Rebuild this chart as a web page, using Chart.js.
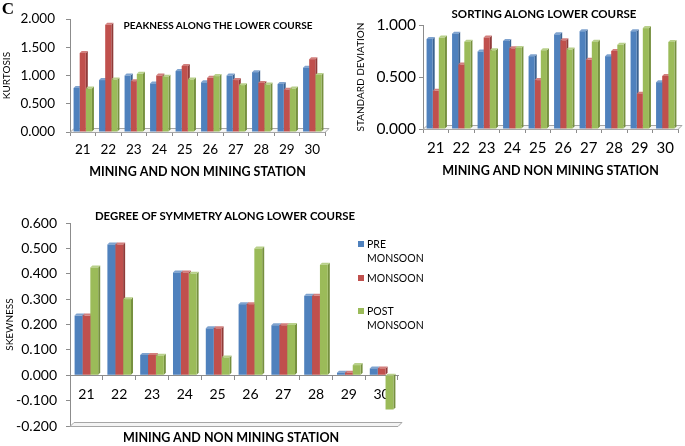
<!DOCTYPE html>
<html><head><meta charset="utf-8">
<script src="https://cdn.jsdelivr.net/npm/chart.js@4"></script>
<style>
body{margin:0;background:#fff;width:685px;height:446px;overflow:hidden;position:relative;font-family:Lato,sans-serif}
canvas{position:absolute}
.t{position:absolute;white-space:nowrap;font-weight:bold;color:#000;transform:translate(-50%,-50%);font-family:Lato,sans-serif}
.lg{position:absolute;font-size:10.5px;line-height:14px;color:#000;font-family:Lato,sans-serif}
.sq{position:absolute;width:6px;height:6px}
</style></head><body>
<canvas id="c1" width="340" height="190" style="left:0;top:0"></canvas>
<canvas id="c2" width="345" height="190" style="left:340px;top:0"></canvas>
<canvas id="c3" width="420" height="246" style="left:0;top:200px"></canvas>
<div class="t" style="left:8px;top:9px;font-family:'Liberation Serif',serif;font-size:17px">C</div>
<div class="t" style="left:218px;top:25px;font-size:10px">PEAKNESS ALONG THE LOWER COURSE</div>
<div class="t" style="left:544px;top:13px;font-size:11.5px">SORTING ALONG LOWER COURSE</div>
<div class="t" style="left:225px;top:215px;font-size:11.4px">DEGREE OF SYMMETRY ALONG LOWER COURSE</div>
<div class="t" style="left:231px;top:437px;font-size:12.5px">MINING AND NON MINING STATION</div>
<div class="sq" style="left:358px;top:241px;background:#4F81BD"></div>
<div class="lg" style="left:367px;top:237px">PRE<br>MONSOON</div>
<div class="sq" style="left:358px;top:275px;background:#C0504D"></div>
<div class="lg" style="left:367px;top:271px">MONSOON</div>
<div class="sq" style="left:358px;top:308px;background:#9BBB59"></div>
<div class="lg" style="left:367px;top:304px">POST<br>MONSOON</div>
<script>
const categories = ['21','22','23','24','25','26','27','28','29','30'];
const seriesNames = ['PRE MONSOON','MONSOON','POST MONSOON'];

const kurtPre  = [0.78,0.92,1.00,0.86,1.08,0.88,1.00,1.06,0.85,1.14];
const kurtMon  = [1.40,1.90,0.90,1.00,1.17,0.96,0.92,0.87,0.75,1.29];
const kurtPost = [0.77,0.93,1.03,0.98,0.93,0.99,0.83,0.84,0.77,1.01];

const sdPre  = [0.866,0.917,0.745,0.847,0.700,0.910,0.940,0.700,0.940,0.450];
const sdMon  = [0.367,0.620,0.880,0.776,0.470,0.853,0.665,0.750,0.340,0.510];
const sdPost = [0.879,0.840,0.757,0.780,0.757,0.764,0.840,0.810,0.970,0.837];

const skPre  = [0.235,0.515,0.080,0.405,0.185,0.280,0.197,0.313,0.010,0.027];
const skMon  = [0.235,0.515,0.080,0.405,0.185,0.280,0.197,0.313,0.010,0.027];
const skPost = [0.425,0.300,0.077,0.400,0.070,0.500,0.198,0.435,0.040,-0.135];

const colors = ['#4F81BD','#C0504D','#9BBB59'];
const sides  = ['#3A6290','#903B39','#76903F'];
const tops   = ['#7FA3CF','#D27F7D','#B8D08A'];
const axisCol = '#8c8c8c';

const depth3d = {
  id:'depth3d',
  beforeDatasetsDraw(chart){
    const ctx = chart.ctx, d = 2;
    ctx.save();
    chart.data.datasets.forEach((ds,i)=>{
      chart.getDatasetMeta(i).data.forEach(el=>{
        const p = el.getProps(['x','y','base','width'], true);
        const l = p.x - p.width/2, r = p.x + p.width/2;
        const top = Math.min(p.y,p.base), bot = Math.max(p.y,p.base);
        ctx.fillStyle = sides[i];
        ctx.beginPath(); ctx.moveTo(r,top); ctx.lineTo(r+d,top-d); ctx.lineTo(r+d,bot-d); ctx.lineTo(r,bot); ctx.closePath(); ctx.fill();
        ctx.fillStyle = tops[i];
        ctx.beginPath(); ctx.moveTo(l,top); ctx.lineTo(l+d,top-d); ctx.lineTo(r+d,top-d); ctx.lineTo(r,top); ctx.closePath(); ctx.fill();
      });
    });
    ctx.restore();
  }
};
const floor3d = {
  id:'floor3d',
  beforeDatasetsDraw(chart){
    const ctx = chart.ctx, a = chart.chartArea, d = 4;
    ctx.save();
    ctx.strokeStyle = '#a6a6a6'; ctx.fillStyle = '#f4f4f4'; ctx.lineWidth = 1;
    ctx.beginPath();
    ctx.moveTo(a.left, a.bottom+0.5); ctx.lineTo(a.right, a.bottom+0.5);
    ctx.lineTo(a.right+d, a.bottom-d+0.5); ctx.lineTo(a.left+d, a.bottom-d+0.5); ctx.closePath();
    ctx.fill(); ctx.stroke();
    ctx.restore();
  }
};

function build(id, data, o){
  return new Chart(document.getElementById(id), {
    type:'bar',
    data:{ labels: categories,
      datasets: data.map((v,i)=>({label:seriesNames[i], data:v, backgroundColor:colors[i],
        borderWidth:0, categoryPercentage:o.cat, barPercentage:1.0})) },
    options:{
      responsive:false, animation:false, devicePixelRatio:1,
      layout:{padding:o.pad},
      plugins:{legend:{display:false}, tooltip:{enabled:false}, title:{display:false}},
      scales:{
        x:{ position: o.xpos || 'bottom',
          grid:{display:true, drawOnChartArea:false, tickLength:4, color:axisCol, offset:true},
          border:{display:true, color:axisCol},
          ticks:{font:{family:'Lato', size:o.xFont}, color:'#000', padding:o.xPad, maxRotation:0, autoSkip:false},
          title: o.xTitle ? {display:true, text:'MINING AND NON MINING STATION', font:{family:'Lato', size:12.5, weight:'bold'}, color:'#000', padding:{top:0,bottom:o.xTitlePad}} : {display:false},
          afterFit: o.xH ? (s=>{s.height=o.xH;}) : undefined
        },
        y:{ min:o.min, max:o.max,
          grid:{display:true, drawOnChartArea:false, tickLength:4, color:axisCol},
          border:{display:true, color:axisCol},
          ticks:{stepSize:o.step, font:{family:'Lato', size:o.yFont}, color:'#000', padding:o.yPad,
            callback:v=>v.toFixed(3)},
          title:{display:true, text:o.yTitle, font:{family:'Lato', size:10}, color:'#000', padding:{top:o.yTitlePad,bottom:0}},
          afterFit: s=>{s.width=o.yW;}
        }
      }
    },
    plugins:[floor3d, depth3d]
  });
}

build('c1', [kurtPre,kurtMon,kurtPost], {cat:0.72, pad:{left:0,top:12,right:15,bottom:0},
  min:0, max:2, step:0.5, yFont:13.5, xFont:13.5, yPad:11, xPad:6, yW:70, xH:58, xTitle:true, xTitlePad:11,
  yTitle:'KURTOSIS', yTitlePad:1});
build('c2', [sdPre,sdMon,sdPost], {cat:0.72, pad:{left:0,top:25,right:7,bottom:0},
  min:0, max:1, step:0.5, yFont:15.5, xFont:15, yPad:3, xPad:6, yW:83, xH:61, xTitle:true, xTitlePad:12,
  yTitle:'STANDARD DEVIATION', yTitlePad:15});
build('c3', [skPre,skMon,skPost], {cat:0.72, pad:{left:0,top:23,right:22,bottom:20},
  min:-0.2, max:0.6, step:0.1, yFont:14, xFont:14, yPad:9, xPad:7, yW:70, xpos:{y:0}, xTitle:false,
  yTitle:'SKEWNESS', yTitlePad:4});
</script>
</body></html>
